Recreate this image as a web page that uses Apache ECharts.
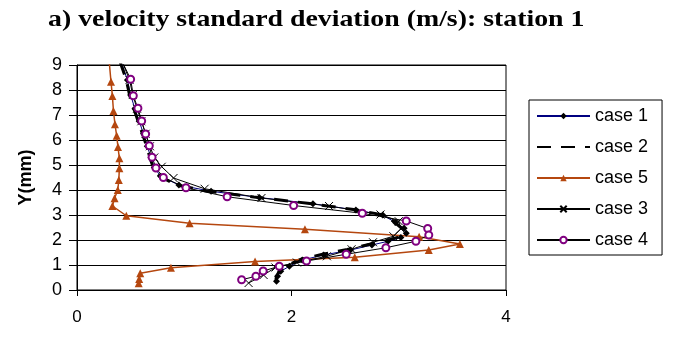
<!DOCTYPE html>
<html>
<head>
<meta charset="utf-8">
<script src="https://cdn.jsdelivr.net/npm/echarts@6/dist/echarts.min.js"></script>
<style>
html, body { margin: 0; padding: 0; background: #fff; }
#mychart { width: 677px; height: 341px; }
</style>
</head>
<body>
<div id="mychart"></div>
<script>
// velocity std (m/s) vs Y (mm), top to bottom
var case1 = [[0.41,9.15],[0.47,8.4],[0.50,7.8],[0.54,7.25],[0.58,6.75],[0.62,6.25],[0.655,5.75],[0.69,5.3],[0.72,4.9],[0.78,4.55],[0.95,4.2],[1.25,3.95],[1.7,3.7],[2.2,3.45],[2.6,3.2],[2.85,3.0],[2.97,2.7],[3.05,2.47],[3.07,2.27],[3.02,2.1],[2.9,1.95],[2.75,1.8],[2.55,1.6],[2.3,1.4],[2.1,1.2],[1.98,0.95],[1.9,0.75],[1.87,0.55],[1.86,0.35]];
var case2 = [[0.40,9.15],[0.46,8.4],[0.49,7.8],[0.53,7.25],[0.57,6.75],[0.61,6.25],[0.65,5.75],[0.68,5.3],[0.71,4.9],[0.77,4.55],[0.93,4.2],[1.22,3.95],[1.65,3.72],[2.15,3.47],[2.58,3.22],[2.83,3.02],[2.95,2.75],[3.02,2.5],[3.04,2.3],[3.0,2.12],[2.88,1.97],[2.72,1.82],[2.52,1.62],[2.28,1.42],[2.08,1.22],[1.96,0.98],[1.89,0.78],[1.86,0.55],[1.85,0.3]];
var case5 = [[0.30,9.15],[0.317,8.33],[0.33,7.76],[0.34,7.16],[0.354,6.63],[0.37,6.17],[0.382,5.72],[0.395,5.27],[0.395,4.87],[0.39,4.4],[0.38,4.0],[0.35,3.67],[0.33,3.36],[0.46,2.97],[1.05,2.67],[2.125,2.43],[3.19,2.13],[3.57,1.84],[3.28,1.6],[2.59,1.31],[1.66,1.14],[0.876,0.89],[0.59,0.67],[0.58,0.44],[0.575,0.27]];
var case3 = [[0.42,9.15],[0.49,8.4],[0.52,7.8],[0.56,7.25],[0.60,6.75],[0.64,6.25],[0.68,5.75],[0.72,5.3],[0.79,4.93],[0.90,4.48],[1.19,4.05],[1.72,3.68],[2.35,3.36],[2.83,3.02],[3.0,2.75],[3.02,2.45],[2.95,2.15],[2.76,1.91],[2.56,1.63],[2.33,1.35],[2.05,1.1],[1.85,0.9],[1.74,0.6],[1.60,0.28]];
var case4 = [[0.42,9.15],[0.50,8.43],[0.525,7.77],[0.568,7.27],[0.603,6.76],[0.64,6.24],[0.674,5.77],[0.70,5.31],[0.736,4.88],[0.805,4.5],[1.016,4.09],[1.40,3.73],[2.02,3.38],[2.66,3.07],[3.07,2.76],[3.27,2.46],[3.28,2.2],[3.16,1.95],[2.88,1.69],[2.51,1.43],[2.14,1.16],[1.886,0.95],[1.736,0.76],[1.668,0.55],[1.535,0.41]];
var seriesNames = ['case 1', 'case 2', 'case 5', 'case 3', 'case 4'];
var xTicks = [0, 2, 4];
var yTicks = [0, 1, 2, 3, 4, 5, 6, 7, 8, 9];
var chartTitle = 'a) velocity standard deviation (m/s): station 1';

var crossPath = 'path://M0,0L10,10M10,0L0,10';

var myChart = echarts.init(document.getElementById('mychart'));
myChart.setOption({
    animation: false,
    textStyle: { fontFamily: 'Liberation Sans, Arial, sans-serif' },
    // title is a bit wider than plain Times bold, so stretch it
    graphic: [{
        type: 'text',
        x: 48,
        y: 9,
        scaleX: 1.21,
        style: {
            text: chartTitle,
            font: 'bold 23px "Liberation Serif", "Times New Roman", serif',
            fill: '#000'
        }
    }],
    legend: {
        orient: 'vertical',
        left: 529,
        top: 100,
        padding: [6, 14, 5, 7],
        itemWidth: 53,
        itemHeight: 8,
        itemGap: 11,
        borderColor: '#000',
        borderWidth: 1,
        textStyle: { fontSize: 18, color: '#000', lineHeight: 20 },
        data: [
            { name: seriesNames[0] },
            { name: seriesNames[1], itemStyle: { opacity: 0 } },
            { name: seriesNames[2] },
            { name: seriesNames[3] },
            { name: seriesNames[4] }
        ]
    },
    grid: {
        left: 77,
        right: 171,
        top: 65,
        bottom: 51,
        show: true,
        borderColor: '#000',
        borderWidth: 1
    },
    xAxis: {
        type: 'value',
        min: xTicks[0],
        max: xTicks[xTicks.length - 1],
        interval: 2,
        axisLine: { lineStyle: { color: '#000' } },
        axisTick: { show: true, length: 6, lineStyle: { color: '#000' } },
        axisLabel: { fontSize: 17, color: '#000', margin: 19 },
        splitLine: { show: false }
    },
    yAxis: {
        type: 'value',
        name: 'Y(mm)',
        nameLocation: 'middle',
        nameGap: 42,
        nameTextStyle: { fontSize: 18, fontWeight: 'bold', color: '#000' },
        min: yTicks[0],
        max: yTicks[yTicks.length - 1],
        interval: 1,
        axisLine: { show: true, lineStyle: { color: '#000' } },
        axisTick: { show: true, length: 8, lineStyle: { color: '#000' } },
        axisLabel: { fontSize: 18, color: '#000', margin: 15 },
        splitLine: { show: true, lineStyle: { color: '#000', width: 1 } }
    },
    series: [
        {
            name: seriesNames[0],
            type: 'line',
            data: case1,
            symbol: 'diamond',
            symbolSize: 7,
            itemStyle: { color: '#000' },
            lineStyle: { color: '#000080', width: 1 }
        },
        {
            name: seriesNames[1],
            type: 'line',
            data: case2,
            showSymbol: false,
            symbol: 'none',
            itemStyle: { color: '#000' },
            lineStyle: { color: '#000', width: 3, type: [14, 10] }
        },
        {
            name: seriesNames[2],
            type: 'line',
            data: case5,
            symbol: 'triangle',
            symbolSize: 8,
            itemStyle: { color: '#b5470f' },
            lineStyle: { color: '#b5470f', width: 1.5 }
        },
        {
            name: seriesNames[3],
            type: 'line',
            data: case3,
            symbol: crossPath,
            symbolSize: 8,
            itemStyle: { color: 'none', borderColor: '#000', borderWidth: 1 },
            lineStyle: { color: '#000', width: 1 }
        },
        {
            name: seriesNames[4],
            type: 'line',
            data: case4,
            symbol: 'emptyCircle',
            symbolSize: 7,
            itemStyle: { color: '#800080', borderColor: '#800080', borderWidth: 1 },
            lineStyle: { color: '#000', width: 1 }
        }
    ]
});
</script>
</body>
</html>
